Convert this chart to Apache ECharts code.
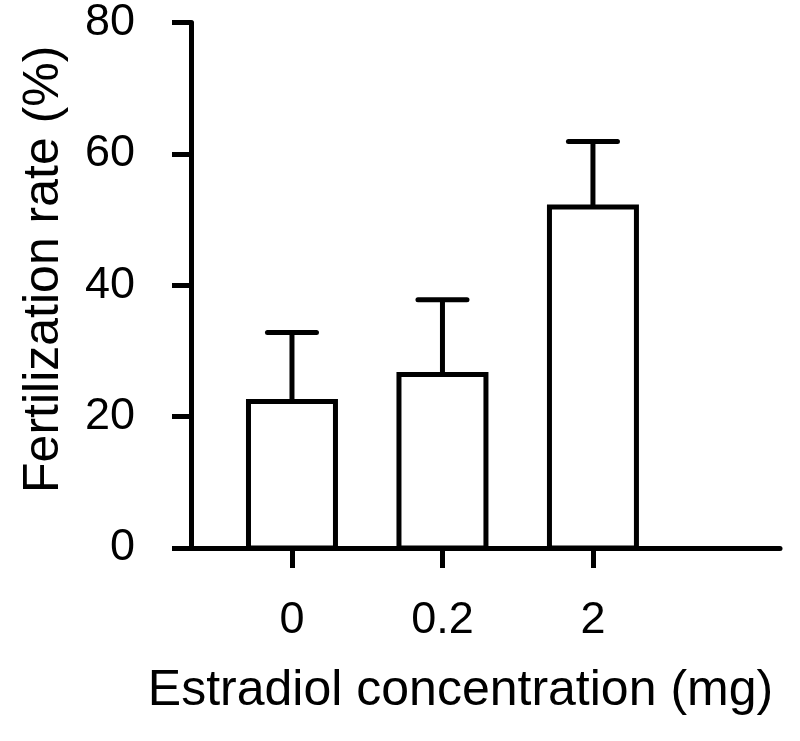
<!DOCTYPE html>
<html>
<head>
<meta charset="utf-8">
<script src="https://cdn.jsdelivr.net/npm/echarts@6/dist/echarts.min.js"></script>
<style>
  html, body { margin: 0; padding: 0; background: #fff; }
  #chart { width: 800px; height: 741px; }
</style>
</head>
<body>
<div id="chart"></div>
<script>
// data
const categories = ['0', '0.2', '2']
const means = [22.3, 26.4, 51.9]
const upperErr = [32.8, 37.8, 61.9]
const yTicks = [0, 20, 40, 60, 80]

const chart = echarts.init(document.getElementById('chart'))

const barData = categories.map((c, i) => [i, means[i], upperErr[i]])

const option = {
  animation: false,
  grid: { left: 191, right: 20, top: 18, bottom: 193 },
  xAxis: {
    type: 'value',
    min: -0.671,
    max: 3.243,
    name: 'Estradiol concentration (mg)',
    nameLocation: 'middle',
    nameGap: 118,
    nameTextStyle: { color: '#000', fontSize: 50, fontFamily: 'Liberation Sans', padding: [0, 50, 0, 0] },
    axisLine: { onZero: false, lineStyle: { color: '#000', width: 5 } },
    axisTick: { show: true, length: 20, lineStyle: { color: '#000', width: 5 }, customValues: [0, 1, 2] },
    axisLabel: {
      customValues: [0, 1, 2],
      formatter: v => categories[Math.round(v)],
      color: '#000', fontSize: 45, fontFamily: 'Liberation Sans', margin: 50
    },
    splitLine: { show: false }
  },
  yAxis: {
    type: 'value',
    min: 0,
    max: 80,
    interval: 20,
    name: 'Fertilization rate (%)',
    nameLocation: 'middle',
    nameGap: 122,
    nameTextStyle: { color: '#000', fontSize: 50, fontFamily: 'Liberation Sans', padding: [0, 0, 0, 32] },
    axisLine: { show: true, onZero: false, lineStyle: { color: '#000', width: 5 } },
    axisTick: { show: true, length: 19, lineStyle: { color: '#000', width: 5 } },
    axisLabel: {
      formatter: v => (yTicks.includes(v) ? String(v) : ''),
      color: '#000', fontSize: 45, fontFamily: 'Liberation Sans', margin: 56
    },
    splitLine: { show: false }
  },
  series: [
    {
      type: 'custom',
      data: barData,
      encode: { x: 0, y: [1, 2] },
      renderItem: (params, api) => {
        const x = api.value(0)
        const base = api.coord([x, 0])
        const top = api.coord([x, api.value(1)])
        const err = api.coord([x, api.value(2)])
        const halfW = api.size([1, 0])[0] * 0.289
        const capHalf = 24.5
        const lw = 5
        return {
          type: 'group',
          children: [
            {
              type: 'line',
              shape: { x1: top[0], y1: top[1], x2: err[0], y2: err[1] },
              style: { stroke: '#000', lineWidth: lw }
            },
            {
              type: 'line',
              shape: { x1: err[0] - capHalf, y1: err[1], x2: err[0] + capHalf, y2: err[1] },
              style: { stroke: '#000', lineWidth: lw, lineCap: 'round' }
            },
            {
              type: 'rect',
              shape: { x: base[0] - halfW, y: top[1], width: halfW * 2, height: base[1] - top[1] },
              style: { fill: '#fff', stroke: '#000', lineWidth: lw }
            }
          ]
        }
      }
    }
  ]
}

chart.setOption(option)
window.addEventListener('resize', () => chart.resize())
</script>
</body>
</html>
